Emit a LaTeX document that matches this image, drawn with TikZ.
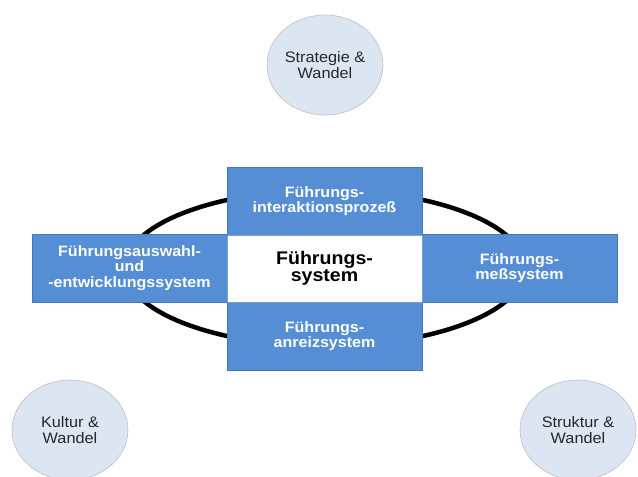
\documentclass[tikz,border=0pt]{standalone}
\usepackage{fontspec}
\setmainfont[FakeStretch=1.07]{Liberation Sans}
\usetikzlibrary{shapes.geometric}
\definecolor{boxblue}{RGB}{85,142,213}
\definecolor{boxline}{RGB}{70,120,185}
\definecolor{circfill}{RGB}{220,229,242}
\definecolor{circline}{RGB}{190,190,195}
\definecolor{txtgray}{RGB}{40,40,40}
\tikzset{
  bluebox/.style={rectangle, draw=boxline, line width=0.6pt, fill=boxblue, text=white,
    minimum width=195pt, minimum height=68pt, inner sep=0pt, align=center,
    font=\bfseries\fontsize{15}{15.5}\selectfont},
  whitebox/.style={rectangle, draw=boxline!70, line width=0.6pt, fill=white, text=black,
    minimum width=195pt, minimum height=67pt, inner sep=0pt, align=center,
    font=\bfseries\fontsize{18.3}{17}\selectfont},
  topic/.style={ellipse, draw=circline, line width=0.6pt, fill=circfill, text=txtgray,
    minimum width=116pt, minimum height=100pt, inner sep=0pt, align=center,
    font=\fontsize{15.2}{15.7}\selectfont},
  ring/.style={draw=black, line width=4.5pt}
}
\begin{document}
\begin{tikzpicture}[x=1pt,y=-1pt]
\useasboundingbox (0,0) rectangle (638,477);
\begin{scope}
\clip (0,0) rectangle (638,477);
\draw[ring] (325,268) ellipse [x radius=200pt, y radius=78pt];
\node[topic] (strat) at (325,65) {Strategie \&\\Wandel};
\node[topic] (kultur) at (70,430) {Kultur \&\\Wandel};
\node[topic] (struktur) at (578,430) {Struktur \&\\Wandel};
\node[bluebox] (inter) at (324.5,201) {Führungs-\\interaktionsprozeß};
\node[bluebox] (ausw) at (129.5,268) {Führungsauswahl-\\und\\-entwicklungssystem};
\node[bluebox] (mess) at (519.5,268) {Führungs-\\meßsystem};
\node[bluebox] (anreiz) at (324.5,336) {Führungs-\\anreizsystem};
\node[whitebox] (sys) at (324.5,268.5) {Führungs-\\system};
\end{scope}
\end{tikzpicture}
\end{document}
